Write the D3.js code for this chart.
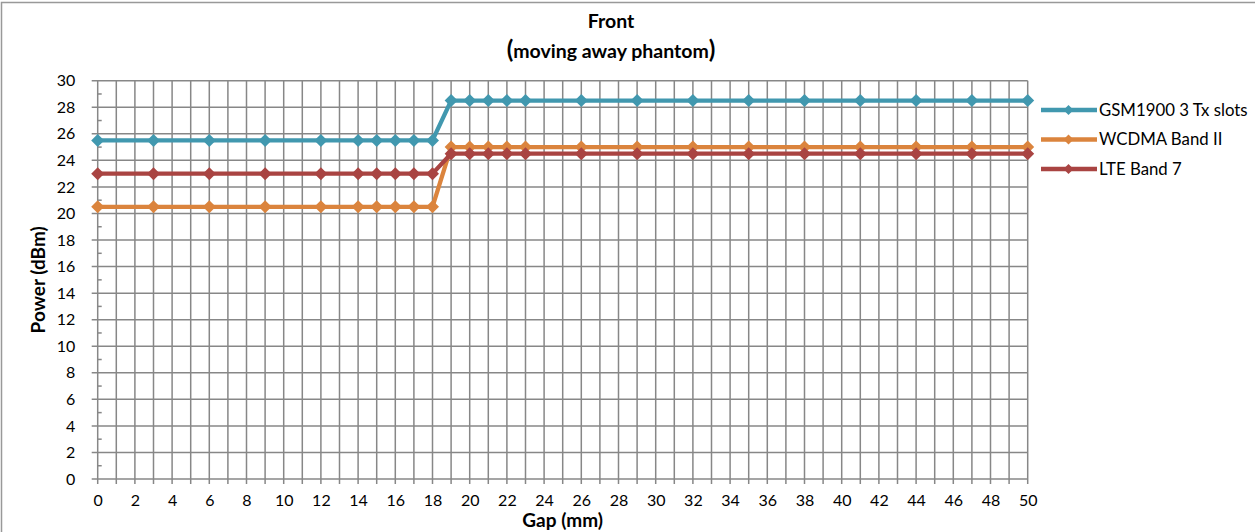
<!DOCTYPE html>
<html><head><meta charset="utf-8">
<script src="https://cdn.jsdelivr.net/npm/d3@7"></script>
<style>body{margin:0;background:#fff}svg{display:block;font-family:Lato,"Open Sans",sans-serif}</style>
</head><body><svg id="c" width="1255" height="532"></svg>
<script>
const gaps = [0,3,6,9,12,14,15,16,17,18,19,20,21,22,23,26,29,32,35,38,41,44,47,50];
const gsm   = [25.5,25.5,25.5,25.5,25.5,25.5,25.5,25.5,25.5,25.5,28.5,28.5,28.5,28.5,28.5,28.5,28.5,28.5,28.5,28.5,28.5,28.5,28.5,28.5];
const wcdma = [20.5,20.5,20.5,20.5,20.5,20.5,20.5,20.5,20.5,20.5,25,25,25,25,25,25,25,25,25,25,25,25,25,25];
const lte   = [23,23,23,23,23,23,23,23,23,23,24.5,24.5,24.5,24.5,24.5,24.5,24.5,24.5,24.5,24.5,24.5,24.5,24.5,24.5];
const seriesNames = ["GSM1900 3 Tx slots","WCDMA Band II","LTE Band 7"];
const colors = ["#4198af","#db843d","#a94442"];
const xTicks = d3.range(0,51,2);
const yTicks = d3.range(0,31,2);

const svg = d3.select("#c");
svg.append("rect").attr("x",1.5).attr("y",2.5).attr("width",1260).attr("height",540)
  .attr("fill","none").attr("stroke","#999").attr("stroke-width",1.5);

const L=97.7,R=1027.7,T=80.7,B=479;
const x = d3.scaleLinear().domain([0,50]).range([L,R]);
const y = d3.scaleLinear().domain([0,30]).range([B,T]);
const gridC="#878787";
const FONT="Lato,'Open Sans',sans-serif";

svg.append("g").selectAll("line").data(d3.range(0,51,1)).join("line")
  .attr("x1",d=>x(d)).attr("x2",d=>x(d)).attr("y1",T).attr("y2",B+5)
  .attr("stroke",gridC).attr("stroke-width",1.5);
svg.append("g").selectAll("line").data(yTicks).join("line")
  .attr("x1",L-6).attr("x2",R).attr("y1",d=>y(d)).attr("y2",d=>y(d))
  .attr("stroke",gridC).attr("stroke-width",1.5);
svg.append("g").selectAll("line").data(d3.range(1,30,2)).join("line")
  .attr("x1",L).attr("x2",L+4).attr("y1",d=>y(d)).attr("y2",d=>y(d))
  .attr("stroke",gridC).attr("stroke-width",1.5);

const xa = svg.append("g").attr("transform",`translate(0,${B})`)
  .call(d3.axisBottom(x).tickValues(xTicks).tickSize(0).tickPadding(15.5));
xa.select(".domain").remove();
xa.selectAll("text").attr("font-size",16).attr("fill","#000").attr("font-family",FONT);
const ya = svg.append("g").attr("transform",`translate(${L},0)`)
  .call(d3.axisLeft(y).tickValues(yTicks).tickSize(0).tickPadding(22.5));
ya.select(".domain").remove();
ya.selectAll("text").attr("font-size",16).attr("fill","#000").attr("font-family",FONT);

const diamond = (w,h)=>`M0,${-h}L${w},0L0,${h}L${-w},0Z`;
const data = [gsm,wcdma,lte];
const line = d3.line().x((d,i)=>x(gaps[i])).y(d=>y(d));
data.forEach((vals,k)=>{
  svg.append("path").datum(vals).attr("d",line).attr("fill","none")
    .attr("stroke",colors[k]).attr("stroke-width",4.3).attr("stroke-linejoin","round");
  svg.append("g").selectAll("path").data(vals).join("path")
    .attr("d",diamond(6.5,6.5)).attr("transform",(d,i)=>`translate(${x(gaps[i])},${y(d)})`)
    .attr("fill",colors[k]);
});

const legY=[110,139.5,169];
seriesNames.forEach((n,k)=>{
  const g=svg.append("g").attr("transform",`translate(0,${legY[k]})`);
  g.append("line").attr("x1",1041).attr("x2",1097).attr("y1",0).attr("y2",0)
    .attr("stroke",colors[k]).attr("stroke-width",4.3);
  g.append("path").attr("d",diamond(5,5)).attr("transform","translate(1068.5,0)").attr("fill",colors[k]);
  g.append("text").attr("x",1099).attr("y",5.5).attr("font-size",16.8).text(n);
});

const cx=(L+R)/2;
svg.append("text").attr("x",611).attr("y",28).attr("text-anchor","middle").attr("font-size",19.5).attr("font-weight","bold").text("Front");
const t2=svg.append("text").attr("x",611).attr("y",58).attr("text-anchor","middle").attr("font-size",19.5).attr("font-weight","bold");
t2.append("tspan").attr("font-size",24).text("(");
t2.append("tspan").text("moving away phantom");
t2.append("tspan").attr("font-size",24).text(")");
svg.append("text").attr("x",cx).attr("y",527).attr("text-anchor","middle").attr("font-size",19).attr("font-weight","bold").text("Gap (mm)");
svg.append("text").attr("transform",`translate(45,${(T+B)/2}) rotate(-90)`).attr("text-anchor","middle").attr("font-size",19).attr("font-weight","bold").text("Power (dBm)");
</script></body></html>
